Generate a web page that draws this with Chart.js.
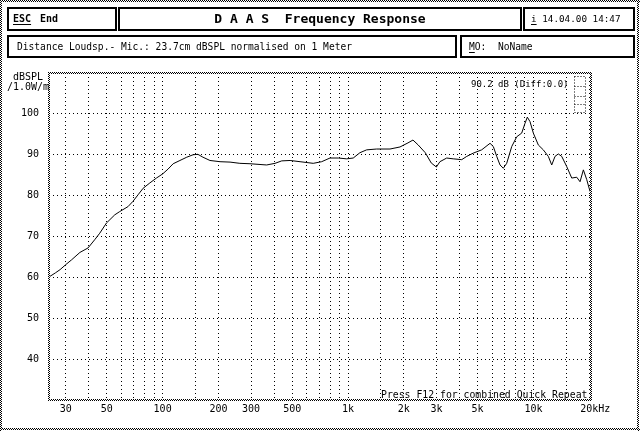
<!DOCTYPE html>
<html><head><meta charset="utf-8">
<script src="https://cdn.jsdelivr.net/npm/chart.js@4/dist/chart.umd.min.js"></script>
<style>
html,body{margin:0;padding:0;background:#fff;}
#wrap{position:relative;width:640px;height:431px;overflow:hidden;background:#fff;}
canvas{position:absolute;left:0;top:0;}
.box{position:absolute;box-sizing:border-box;border:2px solid #000;font-family:"DejaVu Sans Mono",monospace;color:#000;white-space:pre;}
u{text-underline-offset:2px;}
</style></head>
<body><div id="wrap"><canvas id="c" width="640" height="431"></canvas>
<div class="box" style="left:7px;top:7px;width:110px;height:24px;font-weight:bold;font-size:10px;line-height:20px;padding-left:4px;"><u>ESC</u><span style="margin-left:9px">End</span></div>
<div class="box" style="left:118px;top:7px;width:404px;height:24px;font-weight:bold;font-size:13px;line-height:20px;text-align:center;">D A A S  Frequency Response</div>
<div class="box" style="left:523px;top:7px;width:112px;height:24px;font-size:9.3px;line-height:20px;padding-left:6px;"><u>i</u> 14.04.00 14:47</div>
<div class="box" style="left:7px;top:35px;width:450px;height:23px;font-size:9.6px;line-height:19px;padding-left:8px;">Distance Loudsp.- Mic.: 23.7cm dBSPL normalised on 1 Meter</div>
<div class="box" style="left:460px;top:35px;width:175px;height:23px;font-size:9.6px;line-height:19px;padding-left:7px;"><u>M</u>O:  NoName</div>
</div>
<script>
const freqs = [24.4, 26.4, 28.0, 30.0, 32.3, 35.8, 39.6, 43.0, 45.8, 49.8, 55.2, 58.7, 65.0, 69.2, 73.7, 78.5, 85.3, 92.6, 100, 107, 114, 124, 135, 146, 155, 165, 180, 204, 231, 261, 296, 364, 404, 439, 487, 551, 649, 721, 799, 886, 983, 1067, 1159, 1260, 1426, 1684, 1906, 2105, 2240, 2390, 2610, 2810, 2995, 3131, 3406, 3693, 4104, 4369, 4738, 5257, 5834, 6078, 6339, 6602, 6879, 7176, 7636, 8127, 8645, 9008, 9269, 9586, 9988, 10623, 11304, 12030, 12550, 13074, 13620, 14210, 15124, 16090, 17121, 17840, 18590, 19390, 20200];
const spl = [60.1, 61.1, 61.9, 63.1, 64.3, 66.1, 67.2, 69.2, 70.8, 73.3, 75.3, 76.1, 77.3, 78.6, 80.2, 81.8, 83.1, 84.3, 85.3, 86.5, 87.8, 88.6, 89.4, 90.0, 90.1, 89.4, 88.6, 88.3, 88.2, 87.9, 87.8, 87.5, 87.9, 88.5, 88.6, 88.3, 87.9, 88.3, 89.2, 89.2, 89.0, 89.2, 90.5, 91.2, 91.4, 91.4, 91.9, 92.9, 93.6, 92.4, 90.5, 88.0, 87.0, 88.3, 89.2, 89.0, 88.8, 89.6, 90.4, 91.2, 92.8, 92.0, 89.6, 87.5, 86.7, 87.9, 92.0, 94.4, 95.3, 97.7, 99.2, 98.1, 95.3, 92.4, 91.2, 89.6, 87.5, 89.6, 90.2, 89.6, 87.1, 84.3, 84.5, 83.4, 86.3, 83.9, 81.0];
const yTicks = [30, 40, 50, 60, 70, 80, 90, 100, 110];
const yLabels = ['', '40', '50', '60', '70', '80', '90', '100', ''];
const xGrid = [30, 40, 50, 60, 70, 80, 90, 100, 150, 200, 300, 400, 500, 600, 700, 800, 900, 1000, 1500, 2000, 3000, 4000, 5000, 6000, 7000, 8000, 9000, 10000, 15000, 20000];
const xLabelVals = [30, 50, 100, 200, 300, 500, 1000, 2000, 3000, 5000, 10000, 20000];
const xLabelText = ['30', '50', '100', '200', '300', '500', '1k', '2k', '3k', '5k', '10k', '  20kHz'];

const FONT = '"DejaVu Sans Mono", monospace';

function checker(ctx) {
  const p = document.createElement('canvas'); p.width = 2; p.height = 2;
  const c = p.getContext('2d');
  c.fillStyle = '#fff'; c.fillRect(0, 0, 2, 2);
  c.fillStyle = '#000'; c.fillRect(0, 0, 1, 1); c.fillRect(1, 1, 1, 1);
  return ctx.createPattern(p, 'repeat');
}

const deco = {
  id: 'deco',
  beforeDraw(chart) {
    const ctx = chart.ctx;
    ctx.save(); ctx.fillStyle = '#fff'; ctx.fillRect(0, 0, chart.width, chart.height); ctx.restore();
  },
  afterDraw(chart) {
    const ctx = chart.ctx; const a = chart.chartArea;
    ctx.save();
    const pat = checker(ctx);
    ctx.fillStyle = pat;
    // outer frame
    ctx.fillRect(0, 0, 640, 2); ctx.fillRect(0, 0, 2, 431);
    ctx.fillRect(637, 0, 2, 431); ctx.fillRect(0, 428, 640, 2);
    // plot frame
    const l = Math.round(a.left) - 1, r = Math.round(a.right) - 1, t = Math.round(a.top) - 1, b = Math.round(a.bottom) - 1;
    ctx.fillRect(l, t, r - l + 2, 2); ctx.fillRect(l, b, r - l + 2, 2);
    ctx.fillRect(l, t, 2, b - t + 2); ctx.fillRect(r, t, 2, b - t + 2);
    // texts
    ctx.fillStyle = '#000';
    ctx.textBaseline = 'middle'; ctx.textAlign = 'left';
    ctx.font = '10px ' + FONT;
    ctx.fillText('dBSPL', 13, 77);
    ctx.fillText('/1.0W/m', 7, 87);
    ctx.font = '9px ' + FONT;
    ctx.fillText('90.2 dB (Diff:0.0)', 471, 85);
    ctx.font = '9.8px ' + FONT;
    ctx.fillText('Press F12 for combined Quick Repeat', 381, 395);
    // small marker
    ctx.strokeStyle = '#000'; ctx.lineWidth = 1; ctx.setLineDash([1, 2]);
    ctx.beginPath();
    ctx.rect(574.5, 76.5, 11, 36);
    [86.5, 96.5, 104.5].forEach(y => { ctx.moveTo(574.5, y); ctx.lineTo(585.5, y); });
    ctx.stroke();
    ctx.restore();
  }
};

new Chart(document.getElementById('c'), {
  type: 'line',
  data: {
    datasets: [{
      data: freqs.map((f, i) => ({ x: f, y: spl[i] })),
      borderColor: '#000', borderWidth: 1, pointRadius: 0, tension: 0, fill: false
    }]
  },
  options: {
    responsive: false, animation: false, devicePixelRatio: 1,
    layout: { padding: { left: 0, top: 73, right: 49, bottom: 0 } },
    plugins: { legend: { display: false }, tooltip: { enabled: false } },
    scales: {
      x: {
        type: 'logarithmic', position: 'bottom', min: 24.39, max: 20440,
        afterBuildTicks: s => { s.ticks = xGrid.map(v => ({ value: v })); },
        afterFit: s => { s.height = 31; },
        ticks: {
          autoSkip: false, maxRotation: 0, minRotation: 0, padding: 3, color: '#000',
          font: { family: FONT, size: 10 },
          callback: v => { const i = xLabelVals.indexOf(v); return i < 0 ? '' : xLabelText[i]; }
        },
        grid: { color: '#000', lineWidth: 1, drawTicks: false },
        border: { display: false, dash: [1, 3] }
      },
      y: {
        type: 'linear', min: 30, max: 110,
        afterBuildTicks: s => { s.ticks = yTicks.map(v => ({ value: v })); },
        afterFit: s => { s.width = 49; },
        ticks: {
          padding: 10, color: '#000', font: { family: FONT, size: 10 },
          callback: v => { const i = yTicks.indexOf(v); return i < 0 ? '' : yLabels[i]; }
        },
        grid: { color: '#000', lineWidth: 1, drawTicks: false },
        border: { display: false, dash: [1, 3] }
      }
    }
  },
  plugins: [deco]
});
</script>
</body></html>
